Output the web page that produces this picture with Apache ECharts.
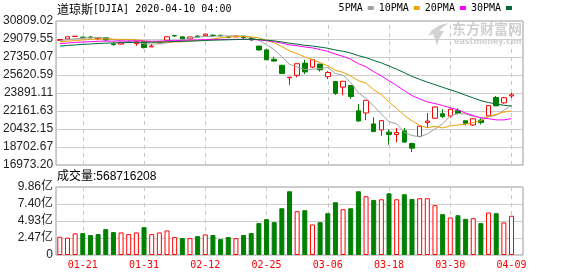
<!DOCTYPE html>
<html><head><meta charset="utf-8">
<script src="https://cdn.jsdelivr.net/npm/echarts@6/dist/echarts.min.js"></script>
<style>html,body{margin:0;padding:0;background:#fff}#c{width:578px;height:276px}</style>
</head><body><div id="c"></div>
<script>
const dates = ['01-15','01-16','01-17','01-21','01-22','01-23','01-24','01-27','01-28','01-29','01-30','01-31',
'02-03','02-04','02-05','02-06','02-07','02-10','02-11','02-12','02-13','02-14','02-18','02-19','02-20','02-21','02-24','02-25','02-26','02-27','02-28',
'03-02','03-03','03-04','03-05','03-06','03-09','03-10','03-11','03-12','03-13','03-16','03-17','03-18','03-19','03-20','03-23','03-24','03-25','03-26','03-27','03-30','03-31',
'04-01','04-02','04-03','04-06','04-07','04-08','04-09'];

const opens = [28947,29088,29313,29252,29263,29110,29201,28608,28593,28820,28640,28813,
28320,28696,28966,29410,29287,29095,29366,29395,29440,29440,29280,29280,29361,29172,28402,28029,27130,26555,25360,
25590,26762,26384,26672,25457,24992,24453,24604,22185,21974,20918,20345,20130,19899,20253,19028,19722,21050,21468,21898,21678,22190,
21227,20819,21285,21693,23460,22943,23609];

const closes = [29030.22,29297.64,29348.10,29196.04,29186.27,29160.09,28989.73,28535.80,28722.85,28734.45,28859.44,28256.03,
28399.81,28807.63,29290.85,29379.77,29102.51,29276.82,29276.34,29551.42,29423.31,29398.08,29232.19,29348.03,29219.98,28992.41,28030,27081.36,26957.59,25766.64,25409.36,
26703.32,25917.41,27090.86,26121.28,25864.78,23851.02,25018.16,23553.22,21200.62,23185.62,20188.52,21237.38,19898.92,20087.19,19173.98,18591.93,20704.91,21200.55,22552.17,21636.78,22327.48,21917.16,
20943.51,21413.44,21052.53,22679.99,22653.86,23433.57,23719.37];

const lows = [28916,29088,29290,29142,29171,28960,28869,28441,28543,28717,28425,28170,
28320,28696,28966,29270,29057,29059,29255,29395,29361,29283,29161,29279,28992,28898,27960,27058,26898,25752,24681,
25391,25706,26286,25943,25227,23706,23690,23328,21155,21285,20116,19790,18917,19154,19121,18214,19649,20539,21427,21469,21522,21843,
20784,20735,20863,21693,22640,22860,23412];

const highs = [29079,29300,29374,29317,29374,29179,29229,28760,28780,28944,28893,28813,
28598,28837,29310,29410,29287,29278,29415,29569,29528,29464,29299,29407,29361,29172,28402,28149,27373,26555,25420,
26706,27085,27102,26672,25994,24992,25020,24604,22838,23190,21562,21291,20370,20532,20531,19121,20737,21970,22595,22327,22378,22420,
21227,21477,21447,22680,23600,23520,23913];

const volumes = [2.65e8,2.50e8,3.13e8,3.18e8,2.89e8,3.03e8,3.75e8,3.32e8,3.27e8,3.03e8,3.27e8,4.04e8,
3.03e8,3.27e8,3.56e8,2.60e8,2.45e8,2.45e8,2.74e8,2.98e8,2.89e8,2.31e8,2.60e8,2.45e8,2.89e8,3.18e8,4.62e8,5.20e8,4.76e8,6.78e8,9.24e8,
6.35e8,6.50e8,4.43e8,4.76e8,6.06e8,7.65e8,6.64e8,6.78e8,9.24e8,8.52e8,7.99e8,8.08e8,8.95e8,8.08e8,8.81e8,8.13e8,8.23e8,8.23e8,7.22e8,5.92e8,5.44e8,5.77e8,
5.25e8,5.34e8,4.62e8,6.16e8,6.06e8,4.72e8,568716208];

// closes before the visible window (Dec 3 2019 - Jan 14 2020), needed for the moving averages
const priorCloses = [27502.81,27649.78,27677.79,28015.06,27909.60,27881.72,27911.30,28132.05,28135.38,28235.89,
28267.16,28239.28,28376.96,28455.09,28551.53,28515.45,28621.39,28645.26,28462.14,28538.44,
28868.80,28634.88,28703.38,28583.68,28745.09,28956.90,28823.77,28907.05,28939.67];

const xTickLabels = ['01-21','01-31','02-12','02-25','03-06','03-18','03-30','04-09'];
const yTickLabels = ['16973.20','18702.67','20432.15','22161.63','23891.11','25620.59','27350.07','29079.55','30809.02'];
const volTickLabels = ['0','2.47亿','4.93亿','7.40亿','9.86亿'];
const volTickValues = [0,2.47e8,4.93e8,7.40e8,9.86e8];

const maDefs = [['5PMA',5,'#a0a0a0'],['10PMA',10,'#f0a000'],['20PMA',20,'#ff00ff'],['30PMA',30,'#006b36']];

const allCloses = priorCloses.concat(closes);
function calcMA(n){
  return closes.map((_, i) => {
    const j = i + priorCloses.length;
    let s = 0;
    for (let k = j - n + 1; k <= j; k++) s += allCloses[k];
    return +(s / n).toFixed(2);
  });
}

const axisCats = dates.concat(['']);
const yTickValues = yTickLabels.map(Number);
const candleData = dates.map((d,i)=>[opens[i],closes[i],lows[i],highs[i]]);
const volData = volumes.map((v,i)=>{
  const prev = i === 0 ? priorCloses[priorCloses.length-1] : closes[i-1];
  const up = closes[i] >= prev;
  return {value:v, itemStyle: up ? {color:'#fff', borderColor:'#ff0000', borderWidth:1} : {color:'#008000', borderColor:'#008000', borderWidth:1}};
});
const vLines = xTickLabels.map(d => ({xAxis:d}));
const vLineStyle = {color:'#c8c8c8', type:[4,4], width:1};

const chart = echarts.init(document.getElementById('c'));
const option = {
  animation:false,
  backgroundColor:'#fff',
  title:[
    {left:57, top:3, padding:0, text:'{c|道琼斯}{a|[DJIA] 2020-04-10 04:00}',
     textStyle:{fontWeight:'normal', rich:{
       c:{fontFamily:'Noto Sans CJK SC', fontSize:12, color:'#000', fontWeight:'normal'},
       a:{fontFamily:'DejaVu Sans Mono', fontSize:10, color:'#000', fontWeight:'normal'}}}},
    {left:57, top:171, padding:0, text:'成交量:' + volumes[volumes.length-1],
     textStyle:{fontFamily:'Liberation Sans, Noto Sans CJK SC', fontSize:12, fontWeight:'normal', color:'#000'}}
  ],
  legend:{top:3, right:66, align:'right', icon:'rect', itemWidth:6, itemHeight:4, itemGap:5, selectedMode:false,
    padding:0, data:maDefs.map(m=>m[0]),
    textStyle:{fontFamily:'DejaVu Sans Mono', fontSize:10, color:'#000'}},
  graphic:[
    {type:'polygon', silent:true, z:0, shape:{points:[[449,23],[440,25],[432,30],[428,36],[433,34],[435,39],[437,46],[439,39],[444,31],[439,31],[443,27]]},
     style:{fill:'#d2d2d2'}},
    {type:'text', silent:true, z:0, left:452, top:22, style:{text:'东方财富网', font:'bold 14px "Noto Sans CJK SC"', fill:'#d0d0d0'}},
    {type:'text', silent:true, z:0, left:454, top:38, style:{text:'eastmoney.com', font:'bold 8px "DejaVu Sans"', fill:'#d0d0d0'}}
  ],
  grid:[
    {left:56, top:21, width:467, height:144, show:true, borderColor:'#999', borderWidth:1, backgroundColor:'transparent'},
    {left:56, top:187, width:467, height:68, show:true, borderColor:'#999', borderWidth:1, backgroundColor:'transparent'}
  ],
  xAxis:[
    {type:'category', gridIndex:0, data:axisCats, boundaryGap:true, axisLine:{show:false}, axisTick:{show:false}, axisLabel:{show:false}, splitLine:{show:false}},
    {type:'category', gridIndex:1, data:axisCats, boundaryGap:true, axisLine:{show:false}, axisTick:{show:false}, splitLine:{show:false},
     axisLabel:{show:true, margin:5, color:'#ff0000', fontFamily:'DejaVu Sans Mono', fontSize:10,
       interval:(i,v)=>xTickLabels.indexOf(v) >= 0}}
  ],
  yAxis:[
    {type:'value', gridIndex:0, min:yTickValues[0], max:yTickValues[yTickValues.length-1], scale:true,
     axisLine:{show:false}, axisTick:{show:false, customValues:yTickValues},
     axisLabel:{customValues:yTickValues, margin:3, color:'#222', fontFamily:'Liberation Sans', fontSize:12,
       formatter:v=>{ const k = yTickValues.indexOf(v); return k>=0 ? yTickLabels[k] : v.toFixed(2); }},
     splitLine:{show:true, lineStyle:{color:'#cccccc', width:1}}},
    {type:'value', gridIndex:1, min:0, max:volTickValues[volTickValues.length-1],
     axisLine:{show:false}, axisTick:{show:false, customValues:volTickValues},
     axisLabel:{customValues:volTickValues, margin:3, color:'#222', fontFamily:'Liberation Sans, Noto Sans CJK SC', fontSize:12,
       formatter:v=>{ const k = volTickValues.indexOf(v); return k>=0 ? volTickLabels[k] : ''; }},
     splitLine:{show:true, lineStyle:{color:'#cccccc', width:1}}}
  ],
  series:[
    {type:'candlestick', name:'DJIA', xAxisIndex:0, yAxisIndex:0, data:candleData, barWidth:5,
     itemStyle:{color:'#ffffff', color0:'#008000', borderColor:'#ff0000', borderColor0:'#008000', borderWidth:1},
     markLine:{silent:true, symbol:['none','none'], label:{show:false}, lineStyle:vLineStyle, emphasis:{disabled:true}, z:1, data:vLines}},
    ...maDefs.map(m=>({type:'line', name:m[0], xAxisIndex:0, yAxisIndex:0, data:calcMA(m[1]), symbol:'none', showSymbol:false,
      color:m[2], lineStyle:{color:m[2], width:1}, z:3})),
    {type:'bar', name:'成交量', xAxisIndex:1, yAxisIndex:1, data:volData, barWidth:5,
     markLine:{silent:true, symbol:['none','none'], label:{show:false}, lineStyle:vLineStyle, emphasis:{disabled:true}, z:1, data:vLines}}
  ]
};
chart.setOption(option);
</script></body></html>
